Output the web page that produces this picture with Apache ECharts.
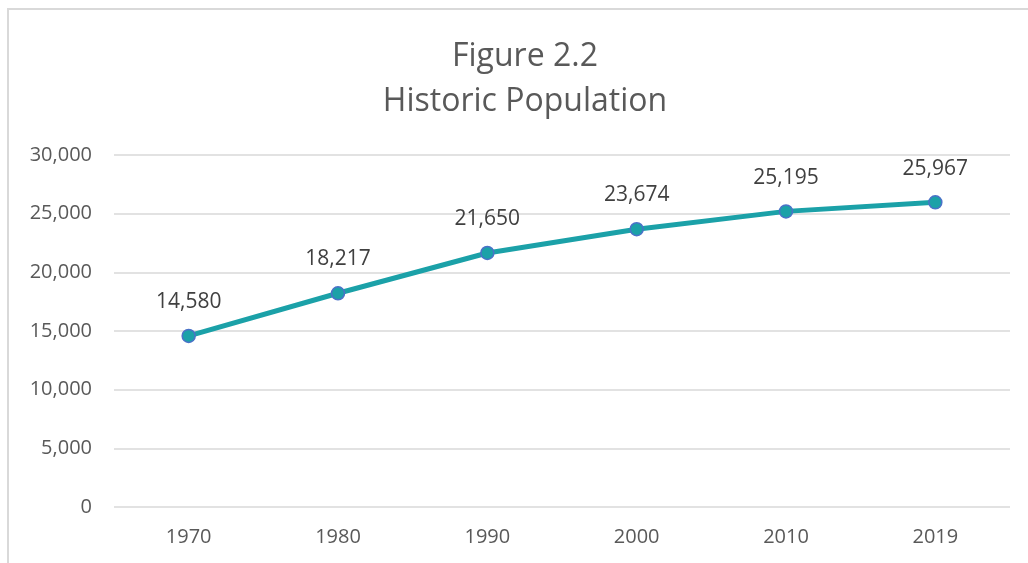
<!DOCTYPE html>
<html>
<head>
<meta charset="utf-8">
<script src="https://cdn.jsdelivr.net/npm/echarts@6/dist/echarts.min.js"></script>
<style>
  html, body {margin: 0; padding: 0; background: #fff;}
  #chart {width: 1028px; height: 563px;}
</style>
</head>
<body>
<div id="chart"></div>
<script>
const years = ["1970", "1980", "1990", "2000", "2010", "2019"];
const population = [14580, 18217, 21650, 23674, 25195, 25967];

const myChart = echarts.init(document.getElementById("chart"));
const font = "'Open Sans', 'Noto Sans', sans-serif";
myChart.setOption({
    animation: false,
    textStyle: {fontFamily: font},
    graphic: [{
        type: "rect",
        shape: {x: 8, y: 9, width: 1040, height: 570},
        style: {fill: "none", stroke: "#d9d9d9", lineWidth: 2}
    }],
    title: {
        text: "Figure 2.2\nHistoric Population",
        left: 520,
        textAlign: "center",
        top: 29,
        textStyle: {
            fontFamily: font,
            fontSize: 32,
            fontWeight: "normal",
            color: "#595959",
            lineHeight: 45
        }
    },
    grid: {left: 114, right: 18, top: 155, bottom: 56},
    xAxis: {
        type: "category",
        data: years,
        axisLine: {show: false},
        axisTick: {show: false},
        axisLabel: {color: "#595959", fontSize: 20, margin: 20, fontFamily: font}
    },
    yAxis: {
        type: "value",
        min: 0,
        max: 30000,
        interval: 5000,
        axisLine: {show: false},
        axisTick: {show: false},
        splitLine: {lineStyle: {color: "#d9d9d9", width: 1.5}},
        axisLabel: {
            color: "#595959",
            fontSize: 20,
            margin: 22,
            fontFamily: font,
            formatter: v => v.toLocaleString("en-US")
        }
    },
    series: [{
        type: "line",
        data: population,
        symbol: "circle",
        symbolSize: 13,
        lineStyle: {color: "#1ba1a8", width: 5},
        itemStyle: {color: "#1ba1a8", borderColor: "#4a72c8", borderWidth: 1.5},
        label: {
            show: true,
            position: "top",
            distance: 16,
            color: "#404040",
            fontSize: 21,
            fontFamily: font,
            formatter: p => p.value.toLocaleString("en-US")
        }
    }]
});
</script>
</body>
</html>
